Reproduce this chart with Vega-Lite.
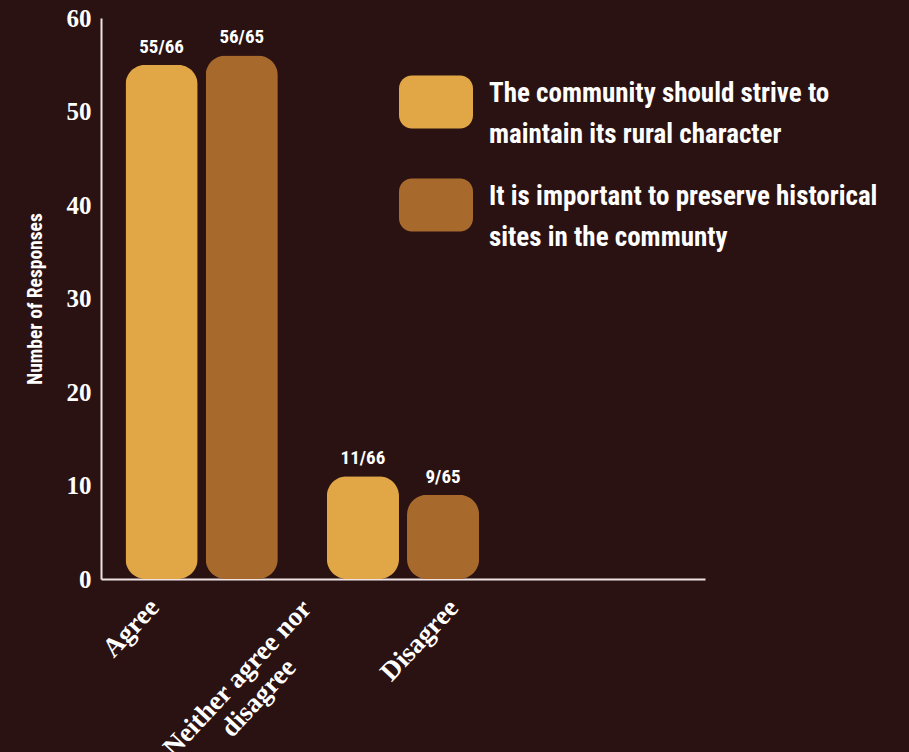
{
  "$schema": "https://vega.github.io/schema/vega-lite/v6.json",
  "width": 604,
  "height": 561,
  "autosize": {"type": "none"},
  "padding": {"left": 101, "top": 18, "right": 204, "bottom": 173},
  "background": "#2a1212",
  "config": {"view": {"stroke": null}},
  "data": {
    "values": [
      {"category": "Agree", "series": "The community should strive to maintain its rural character", "value": 55, "label": "55/66"},
      {"category": "Agree", "series": "It is important to preserve historical sites in the communty", "value": 56, "label": "56/65"},
      {"category": "Neither agree nor disagree", "series": "The community should strive to maintain its rural character", "value": 11, "label": "11/66"},
      {"category": "Neither agree nor disagree", "series": "It is important to preserve historical sites in the communty", "value": 9, "label": "9/65"}
    ]
  },
  "encoding": {
    "x": {
      "field": "category",
      "type": "nominal",
      "scale": {"domain": ["Agree", "Neither agree nor disagree", "Disagree"], "paddingInner": 0, "paddingOuter": 0},
      "axis": {
        "title": null,
        "domainColor": "#efe2e2",
        "domainWidth": 2,
        "ticks": false,
        "labelAngle": -47,
        "labelAlign": "center",
        "labelBaseline": "top",
        "labelPadding": {"condition": [{"test": "datum.value == 'Agree'", "value": 40}, {"test": "datum.value == 'Disagree'", "value": 52}], "value": 90},
        "labelFont": "Liberation Serif",
        "labelFontWeight": "bold",
        "labelFontSize": 27,
        "labelColor": "#ffffff",
        "labelLineHeight": 29,
        "labelLimit": 0,
        "labelOverlap": false,
        "labelBound": false,
        "labelOffset": {"condition": [{"test": "datum.value == 'Agree'", "value": -80}, {"test": "datum.value == 'Disagree'", "value": -194}], "value": -175},
        "labelExpr": "datum.value == 'Neither agree nor disagree' ? ['Neither agree nor', 'disagree'] : datum.label"
      }
    },
    "xOffset": {
      "field": "series",
      "type": "nominal",
      "scale": {"domain": ["The community should strive to maintain its rural character", "It is important to preserve historical sites in the communty"], "paddingInner": 0.1, "paddingOuter": 0.306}
    },
    "y": {
      "field": "value",
      "type": "quantitative",
      "scale": {"domain": [0, 60]},
      "axis": {
        "values": [0, 10, 20, 30, 40, 50, 60],
        "grid": false,
        "ticks": false,
        "domainColor": "#efe2e2",
        "domainWidth": 2,
        "labelFont": "Liberation Serif",
        "labelFontWeight": "bold",
        "labelFontSize": 25,
        "labelColor": "#ffffff",
        "labelPadding": 10,
        "title": "Number of Responses",
        "titleFont": "'Roboto Condensed', 'DejaVu Sans Condensed', Roboto, sans-serif",
        "titleFontWeight": "bold",
        "titleFontSize": 19.5,
        "titleColor": "#ffffff",
        "titlePadding": 21
      }
    }
  },
  "layer": [
    {
      "mark": {"type": "bar", "cornerRadius": 20},
      "encoding": {
        "color": {
          "field": "series",
          "type": "nominal",
          "scale": {"domain": ["The community should strive to maintain its rural character", "It is important to preserve historical sites in the communty"], "range": ["#e1a746", "#a8692c"]},
          "legend": {
            "orient": "none",
            "legendX": 298,
            "legendY": 47,
            "title": null,
            "padding": 0,
            "symbolType": "M -0.65,-0.716 L 0.65,-0.716 A 0.35,0.35 0 0 1 1,-0.366 L 1,0.366 A 0.35,0.35 0 0 1 0.65,0.716 L -0.65,0.716 A 0.35,0.35 0 0 1 -1,0.366 L -1,-0.366 A 0.35,0.35 0 0 1 -0.65,-0.716 Z",
            "symbolSize": 5476,
            "symbolStrokeWidth": 0,
            "symbolOpacity": 1,
            "labelFont": "'Roboto Condensed', 'DejaVu Sans Condensed', Roboto, sans-serif",
            "labelFontWeight": "bold",
            "labelFontSize": 27,
            "labelColor": "#ffffff",
            "labelOffset": 16,
            "labelLimit": 600,
            "rowPadding": 20,
            "labelExpr": "datum.label == 'The community should strive to maintain its rural character' ? ['The community should strive to', 'maintain its rural character'] : ['It is important to preserve historical', 'sites in the communty']",
            "encode": {"labels": {"update": {"lineHeight": {"value": 41}, "dy": {"value": -8}}}}
          }
        }
      }
    },
    {
      "mark": {"type": "text", "baseline": "bottom", "dy": -8, "font": "'Roboto Condensed', 'DejaVu Sans Condensed', Roboto, sans-serif", "fontWeight": "bold", "fontSize": 19, "color": "#ffffff"},
      "encoding": {"text": {"field": "label"}}
    }
  ]
}
